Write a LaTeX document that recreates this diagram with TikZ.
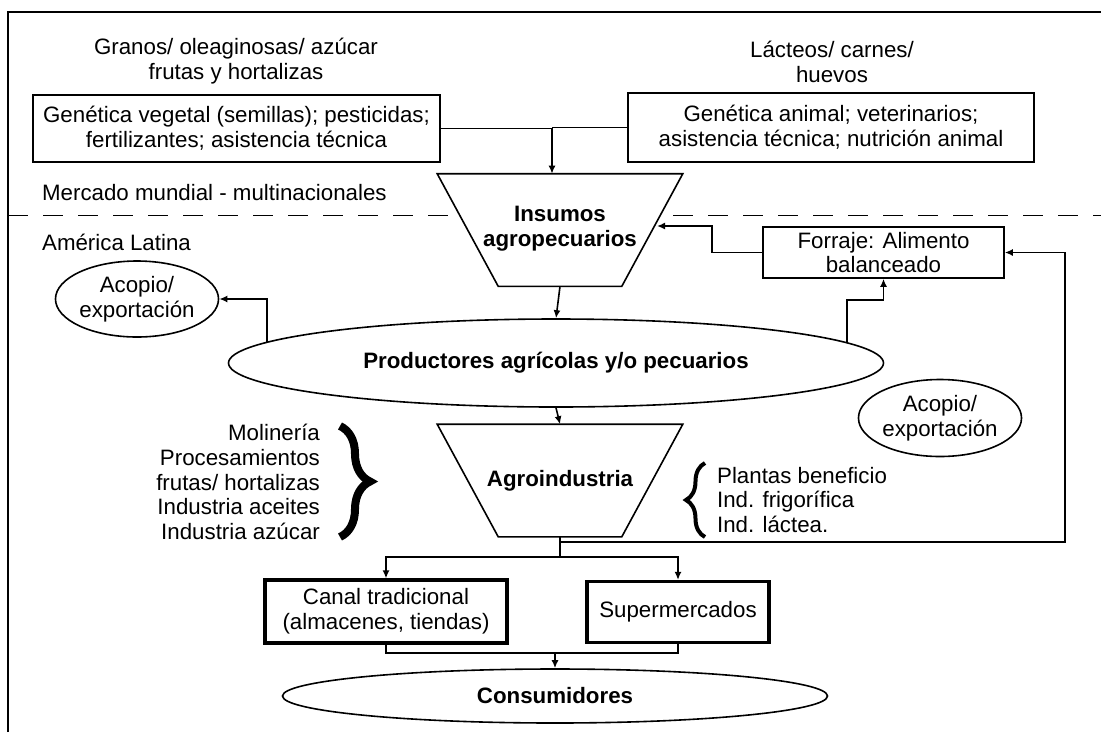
\documentclass[tikz,border=0pt]{standalone}
\usepackage{fontspec}
\setmainfont{Liberation Sans}
\usetikzlibrary{shapes.geometric,arrows.meta,decorations.pathreplacing,backgrounds}

\tikzset{
  txt/.style={font=\fontsize{22.3}{24.8}\selectfont, align=center},
  boldtxt/.style={txt, font=\fontsize{22.3}{24.8}\selectfont\bfseries},
  box/.style={txt, draw, line width=1.6pt},
  thickbox/.style={txt, draw, line width=3.2pt},
  funnel/.style={boldtxt, minimum width=244pt, minimum height=111pt, inner sep=0pt},
  oval/.style={txt, draw, ellipse, line width=1.6pt, inner sep=0pt}
}

\begin{document}
\begin{tikzpicture}[x=1pt,y=-1pt,line width=1.6pt,>={Latex[length=8pt,width=7pt]}]
\useasboundingbox (0,0) rectangle (1101,732);

% Frame
\draw (8,732) -- (8,12) -- (1101,12);

% Top headings
\node (granos) [txt] at (236,61) {Granos/ oleaginosas/ azúcar\\frutas y hortalizas};
\node (lacteos) [txt] at (832,62) {Lácteos/ carnes/\\huevos};

% Input boxes
\node (gv) [box, minimum width=407pt, minimum height=67pt] at (236.5,128.5) {Genética vegetal (semillas); pesticidas;\\fertilizantes; asistencia técnica};
\node (ga) [box, minimum width=406pt, minimum height=69pt] at (831,127.5) {Genética animal; veterinarios;\\asistencia técnica; nutrición animal};

% World market / region
\node (mercado) [txt, anchor=west] at (38,193) {Mercado mundial - multinacionales};
\node (america) [txt, anchor=west] at (38,242) {América Latina};

% Funnels
\node (ins) [funnel] at (560,230) {\raisebox{7pt}{\shortstack{Insumos\\[5pt]agropecuarios}}};
\node (agro) [funnel] at (560,480.5) {\raisebox{5pt}{Agroindustria}};
\foreach \f in {ins,agro}
  \draw (\f.north west) -- (\f.north east) -- ([xshift=-61pt]\f.south east)
    -- ([xshift=61pt]\f.south west) -- cycle;
\begin{scope}[on background layer]
  \draw[dash pattern=on 20pt off 15pt] (8,215) -- (1101,215);
  \fill[white] (ins.north west) -- (ins.north east) -- ([xshift=-61pt]ins.south east)
    -- ([xshift=61pt]ins.south west) -- cycle;
\end{scope}

% Ovals
\node (prod) [oval, boldtxt, minimum width=655pt, minimum height=88pt] at (556,363) {Productores agrícolas y/o pecuarios};
\node (acL) [oval, minimum width=160pt, minimum height=76pt] at (137,299) {Acopio/\\exportación};
\node (acR) [oval, minimum width=156pt, minimum height=77pt] at (940,418) {Acopio/\\exportación};
\node (cons) [oval, boldtxt, minimum width=545pt, minimum height=54pt] at (555,696) {Consumidores};

% Forage box
\node (fo) [box, minimum width=241pt, minimum height=51pt] at (883.5,252.5) {Forraje: Alimento\\balanceado};

% Industry lists
\node (molin) [txt, anchor=east, align=right] at (324,482) {Molinería\\Procesamientos\\frutas/ hortalizas\\Industria aceites\\Industria azúcar};
\draw[decorate, decoration={brace, amplitude=30pt}, line width=8pt] (340,426) -- (340,537);
\node (plantas) [txt, anchor=west, align=left] at (713,500) {Plantas beneficio\\Ind. frigorífica\\Ind. láctea.};
\draw[decorate, decoration={brace, amplitude=19pt}, line width=4pt] (705,537) -- (705,463);

% Sales channels
\node (canal) [thickbox, minimum width=242pt, minimum height=63pt] at (386,611.5) {Canal tradicional\\(almacenes, tiendas)};
\node (super) [thickbox, minimum width=182pt, minimum height=61pt] at (678,612) {Supermercados};

% Connectors
\coordinate (insIn) at ([xshift=-8pt]ins.north);
\draw[->] (gv.east) -| (insIn);
\draw (ga.west) -- (ga.west -| insIn);
\coordinate (insR) at (657,226);
\draw[->] (fo.west) -- ++(-50,0) |- (insR);
\draw[->] (ins.south) -- (prod.north);
\coordinate (pL) at (267,342);
\draw[->] (pL) |- (acL.east);
\coordinate (pR) at (847,343);
\draw[->] (pR) -- ++(0,-43) -| (fo.south);
\draw[->] (prod.south) -- (agro.north);
\draw (agro.south) -- ++(0,20) coordinate (split);
\draw[->] (split) -| (canal.north);
\draw[->] (split) -| (super.north);
\draw[->] ([yshift=-5pt]agro.south) -- ++(505,0) |- (fo.east);
\draw (canal.south) |- ([yshift=15pt]cons.north) -| (super.south);
\draw[->] ([yshift=15pt]cons.north) -- (cons.north);
\end{tikzpicture}
\end{document}
